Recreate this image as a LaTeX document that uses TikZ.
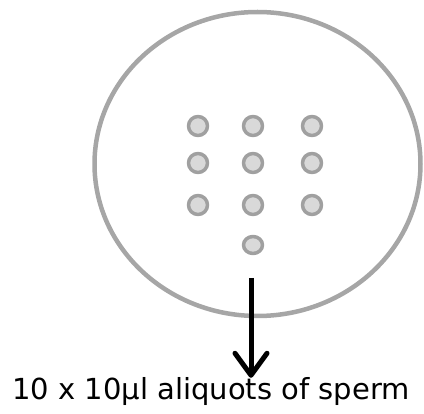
\documentclass[tikz,border=0pt]{standalone}
\usepackage{fontspec}
\setmainfont{DejaVu Sans}
\usepackage{tikz}
\usetikzlibrary{arrows.meta,shapes.geometric}
\definecolor{dishgray}{HTML}{A6A6A6}
\definecolor{dropfill}{HTML}{D9D9D9}
\definecolor{dropedge}{HTML}{A0A0A0}

\begin{document}
\begin{tikzpicture}[x=1pt,y=-1pt,line join=round,
  dish/.style={draw=dishgray,line width=4.5pt},
  drop/.style={ellipse,draw=dropedge,fill=dropfill,line width=3.5pt,
    minimum width=19pt,minimum height=19pt,inner sep=0pt},
  flow/.style={line width=5pt,-{Straight Barb[length=22pt,width=32pt,round]}}]
  \useasboundingbox (0,0) rectangle (424,414);
  \draw[dish] (257.5,164) ellipse [x radius=163, y radius=152];
  % 3 x 3 drops plus one below
  \foreach \c/\x in {1/198,2/253,3/312}
    \foreach \r/\y in {1/126,2/163,3/205}
      \node[drop] (d\c\r) at (\x,\y) {};
  \node[drop,minimum height=17pt] (d24) at (253,245) {};
  \node[font=\fontsize{29}{32}\selectfont,inner sep=0pt,anchor=base] (label) at (211,400)
    {10 x 10µl aliquots of sperm};
  \coordinate (astart) at (251,278);
  \draw[flow] (astart) -- (label.north -| astart);
\end{tikzpicture}
\end{document}
